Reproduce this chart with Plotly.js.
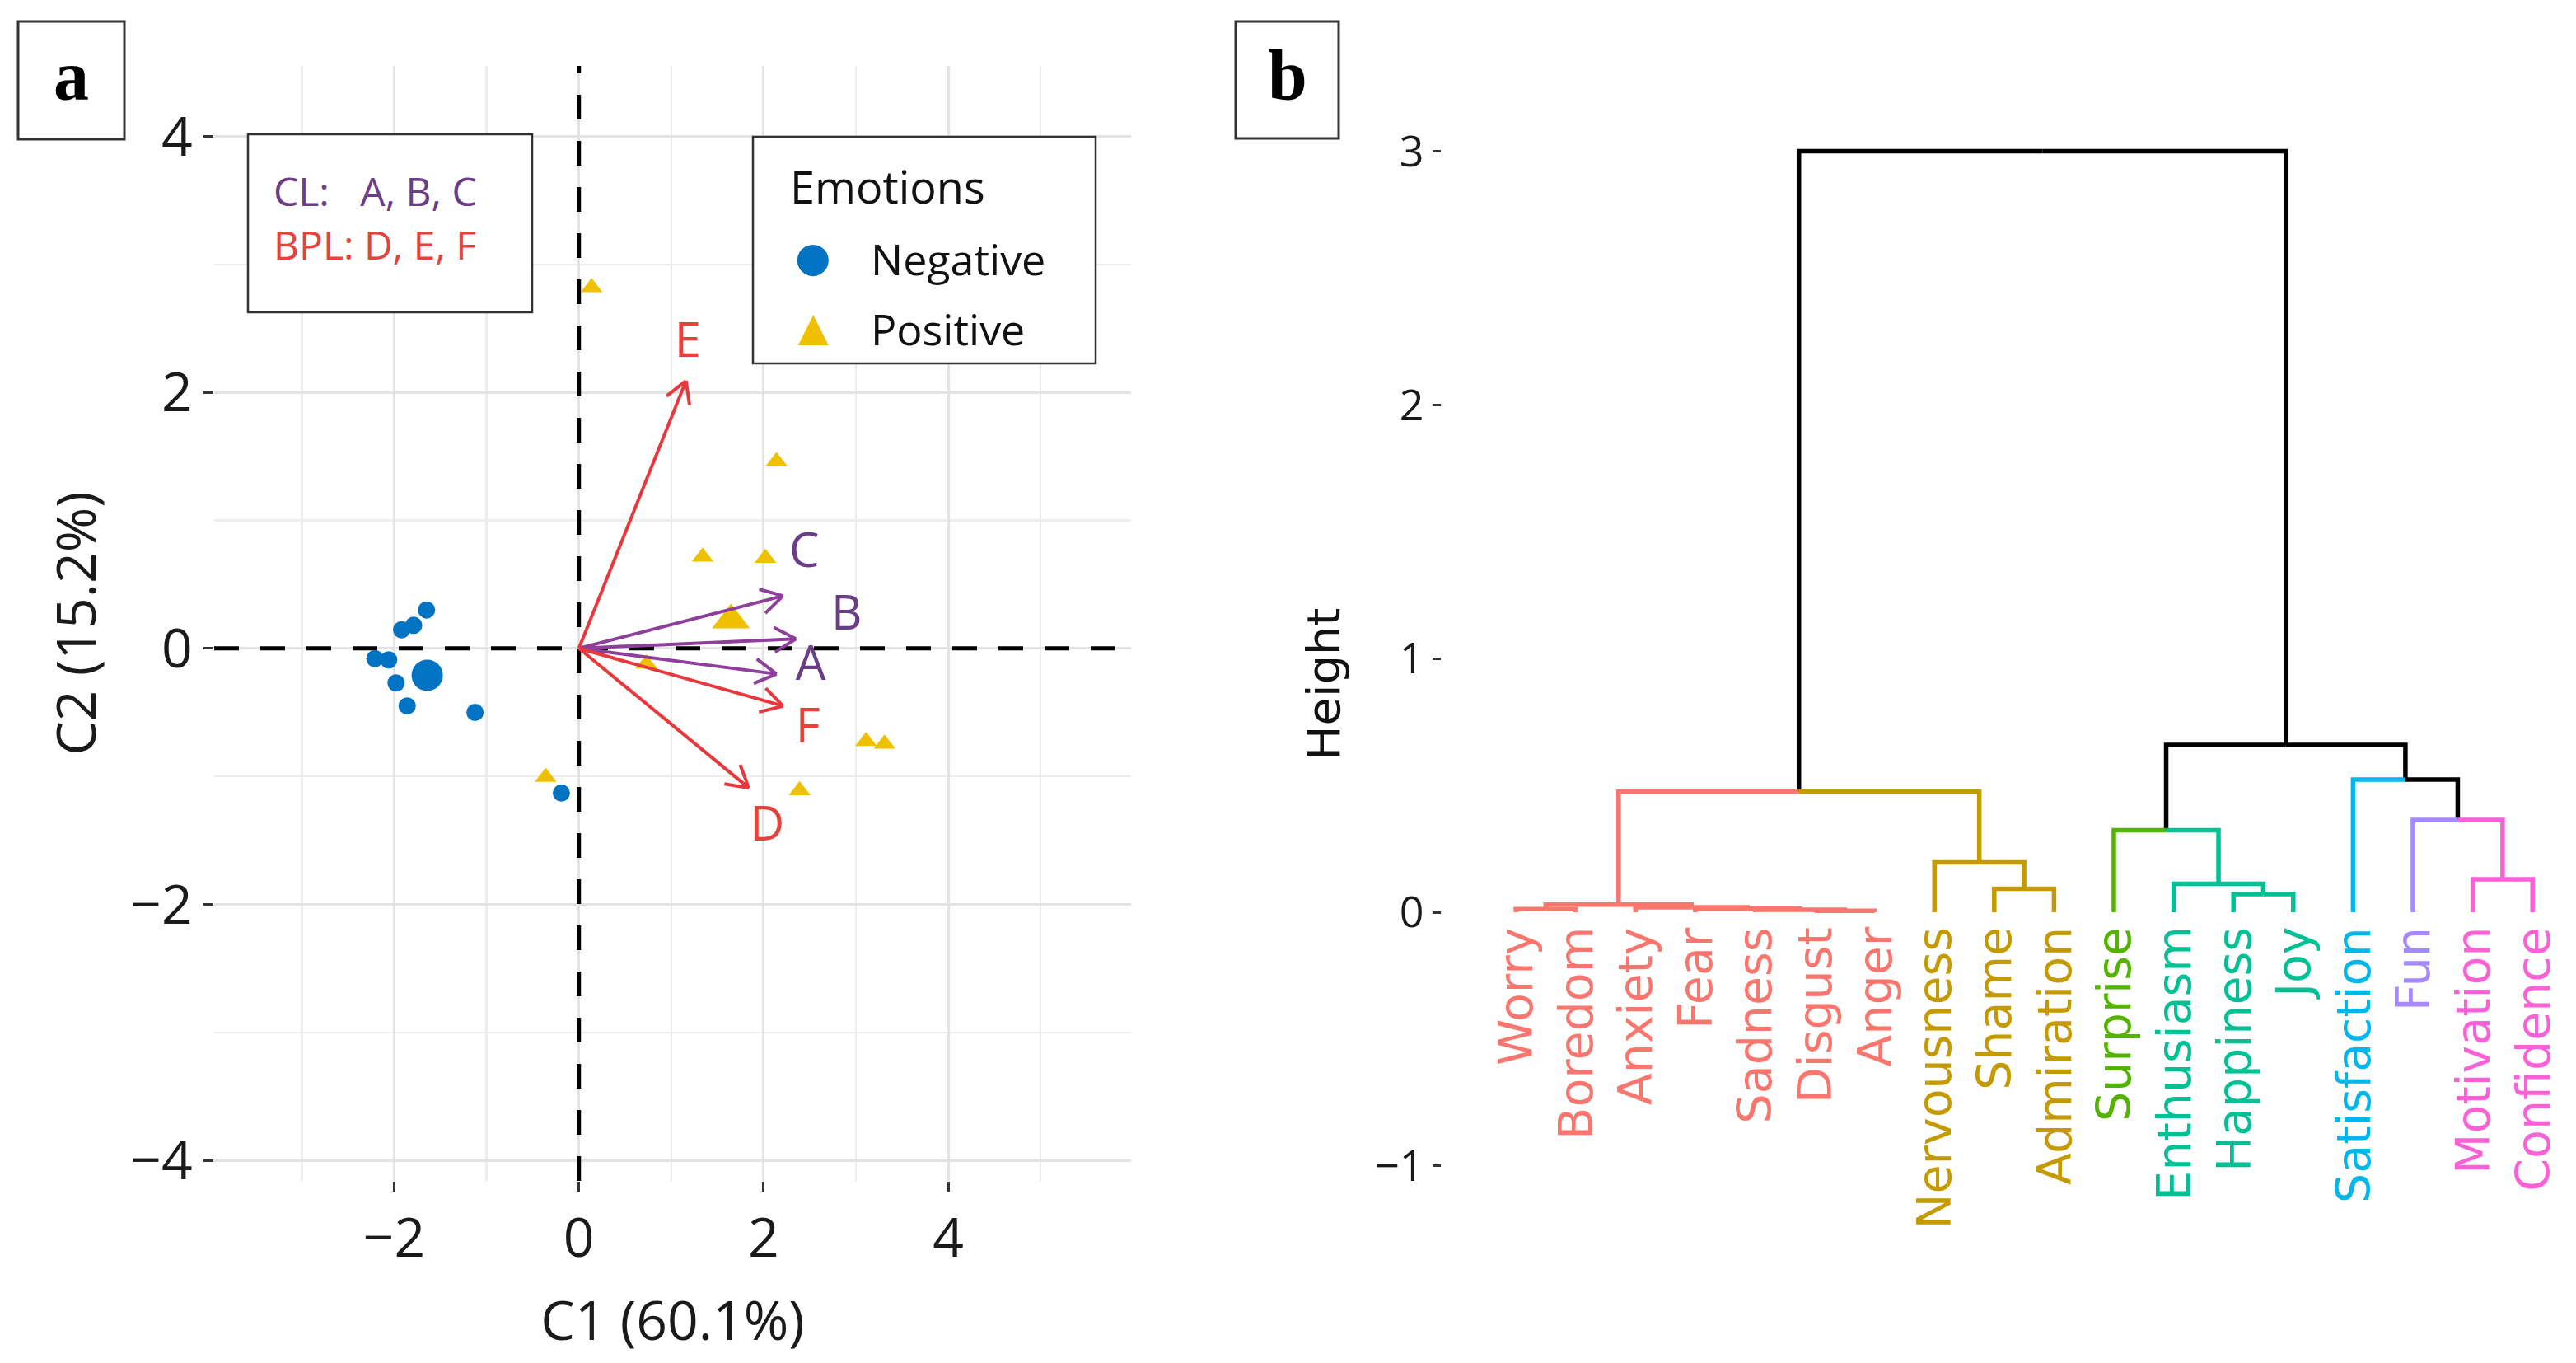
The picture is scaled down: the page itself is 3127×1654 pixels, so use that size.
<!DOCTYPE html>
<html><head><meta charset="utf-8">
<script src="https://cdn.plot.ly/plotly-3.0.1.min.js"></script>
<style>html,body{margin:0;padding:0;background:#fff}#chart{width:3127px;height:1654px}</style>
</head><body><div id="chart"></div>
<script>
// ---------------- Panel a: PCA biplot data ----------------
const negX = [-1.65, -1.79, -1.92, -2.21, -2.06, -1.98, -1.86, -1.125, -0.19];
const negY = [0.30, 0.18, 0.145, -0.08, -0.09, -0.27, -0.45, -0.50, -1.13];
const posX = [0.137, 2.14, 1.34, 2.02, 3.11, 3.31, 2.39, -0.36, 0.73];
const posY = [2.82, 1.46, 0.715, 0.705, -0.726, -0.747, -1.11, -1.005, -0.12];
const groupNames = ['Negative', 'Positive'];

const varNames = ['A', 'B', 'C', 'D', 'E', 'F'];
const varGroup = ['CL', 'CL', 'CL', 'BPL', 'BPL', 'BPL'];
const varX = [2.14, 2.35, 2.21, 1.84, 1.16, 2.21];
const varY = [-0.20, 0.074, 0.41, -1.09, 2.09, -0.45];
const varLabelX = [2.51, 2.90, 2.44, 2.04, 1.18, 2.48];
const varLabelY = [-0.15, 0.24, 0.73, -1.41, 2.37, -0.64];

const xTicksA = [-2, 0, 2, 4];
const yTicksA = [-4, -2, 0, 2, 4];

// ---------------- Panel b: dendrogram data ----------------
const leaves = ['Worry','Boredom','Anxiety','Fear','Sadness','Disgust','Anger','Nervousness','Shame','Admiration','Surprise','Enthusiasm','Happiness','Joy','Satisfaction','Fun','Motivation','Confidence'];
const leafCluster = [1,1,1,1,1,1,1,2,2,2,3,4,4,4,5,6,7,7];
const clusterColors = ['#000000','#F8766D','#C49A00','#53B400','#00C094','#00B6EB','#A58AFF','#FB61D7'];
// hclust-style merges: negative = leaf (1-based), positive = earlier merge (1-based)
const mergeLeft   = [-6, -5, -4, -1, -3, 4, -9, -8, -13, -12, -17, -11, -16, 6, -15, 12, 14];
const mergeRight  = [-7,  1,  2, -2,  3, 5, -10, 7, -14,   9, -18,  10,  11, 8,  13, 15, 16];
const mergeHeight = [0.006, 0.010, 0.014, 0.012, 0.020, 0.030, 0.093, 0.197, 0.072, 0.112, 0.130, 0.323, 0.364, 0.475, 0.523, 0.660, 3.000];
const yTicksB = [-1, 0, 1, 2, 3];

// ---------------- geometry ----------------
const W = 3127, H = 1654;
const domX = (a, b) => [a / W, b / W];
const domY = (top, bottom) => [1 - bottom / H, 1 - top / H];
const pxA = {l: 260, r: 1373, t: 80, b: 1433};
const xRangeA = [-3.95, 5.98], yRangeA = [-4.16, 4.55];
const kx = (pxA.r - pxA.l) / (xRangeA[1] - xRangeA[0]);
const ky = (pxA.b - pxA.t) / (yRangeA[1] - yRangeA[0]);
const pxB = {l: 1750, r: 3120, t: 122, b: 1538};
const xRangeB = [-0.2397, 18.631], yRangeB = [-1.4, 3.2];

const fontA = 'Open Sans, Noto Sans, sans-serif';
const fontB = 'DejaVu Sans, Verdana, sans-serif';
const BLUE = '#0073C2', GOLD = '#EFC000';
const PURPLE_LINE = '#8E3F9C', PURPLE_TEXT = '#6B3D86';
const RED_LINE = '#E8383D', RED_TEXT = '#E2443C';

const mean = a => a.reduce((s, v) => s + v, 0) / a.length;

const traces = [];
// dashed reference lines through the origin (drawn first, beneath marks)
const dashLine = {color:'#000', width:5, dash:'30px,26px'};
traces.push({type:'scatter', mode:'lines', x:[0, 0], y: yRangeA, xaxis:'x', yaxis:'y',
  line: dashLine, showlegend:false, hoverinfo:'skip'});
traces.push({type:'scatter', mode:'lines', x: xRangeA, y:[0, 0], xaxis:'x', yaxis:'y',
  line: dashLine, showlegend:false, hoverinfo:'skip'});
// points
traces.push({type:'scatter', mode:'markers', name: groupNames[0], x: negX, y: negY, xaxis:'x', yaxis:'y',
  marker:{symbol:'circle', size:21, color:BLUE}, showlegend:false, hoverinfo:'x+y'});
traces.push({type:'scatter', mode:'markers', name: groupNames[1], x: posX, y: posY, xaxis:'x', yaxis:'y',
  marker:{symbol:'triangle-up', size:23, color:GOLD}, showlegend:false, hoverinfo:'x+y'});
// group mean points
traces.push({type:'scatter', mode:'markers', x:[mean(negX)], y:[mean(negY)], xaxis:'x', yaxis:'y',
  marker:{symbol:'circle', size:38, color:BLUE}, showlegend:false, hoverinfo:'skip'});
traces.push({type:'scatter', mode:'markers', x:[mean(posX)], y:[mean(posY)], xaxis:'x', yaxis:'y',
  marker:{symbol:'triangle-up', size:40, color:GOLD}, showlegend:false, hoverinfo:'skip'});

// arrows
function arrowTrace(group, color) {
  const xs = [], ys = [];
  varNames.forEach((n, i) => {
    if (varGroup[i] !== group) return;
    const tx = varX[i], ty = varY[i];
    xs.push(0, tx, null); ys.push(0, ty, null);
    const dpx = tx * kx, dpy = ty * ky, L = Math.hypot(dpx, dpy);
    const ux = dpx / L, uy = dpy / L, hl = 30, ang = Math.PI / 6;
    [1, -1].forEach(s => {
      const c = Math.cos(s * ang), sn = Math.sin(s * ang);
      const rx = ux * c - uy * sn, ry = ux * sn + uy * c;
      xs.push(tx, tx - hl * rx / kx, null); ys.push(ty, ty - hl * ry / ky, null);
    });
  });
  return {type:'scatter', mode:'lines', x:xs, y:ys, xaxis:'x', yaxis:'y',
    line:{color, width:4}, showlegend:false, hoverinfo:'skip'};
}
traces.push(arrowTrace('CL', PURPLE_LINE));
traces.push(arrowTrace('BPL', RED_LINE));
traces.push({type:'scatter', mode:'text', x: varLabelX, y: varLabelY, text: varNames, xaxis:'x', yaxis:'y',
  textposition:'middle center',
  textfont:{family: fontA, size: 58, color: varGroup.map(g => g === 'CL' ? PURPLE_TEXT : RED_TEXT)},
  showlegend:false, hoverinfo:'skip'});

// dendrogram
const nodeX = [], nodeH = [], nodeC = [];
const childX = c => c < 0 ? (-c) : nodeX[c - 1];
const childH = c => c < 0 ? 0 : nodeH[c - 1];
const childC = c => c < 0 ? leafCluster[-c - 1] : nodeC[c - 1];
mergeHeight.forEach((h, i) => {
  const a = mergeLeft[i], b = mergeRight[i];
  nodeX.push((childX(a) + childX(b)) / 2);
  nodeH.push(h);
  const ca = childC(a), cb = childC(b);
  nodeC.push(ca === cb ? ca : 0);
});
const segs = {};
mergeHeight.forEach((h, i) => {
  [mergeLeft[i], mergeRight[i]].forEach(c => {
    const col = childC(c);
    if (!segs[col]) segs[col] = {x: [], y: []};
    segs[col].x.push(nodeX[i], childX(c), childX(c), null);
    segs[col].y.push(h, h, childH(c), null);
  });
});
Object.keys(segs).forEach(k => {
  traces.push({type:'scatter', mode:'lines', x: segs[k].x, y: segs[k].y, xaxis:'x2', yaxis:'y2',
    line:{color: clusterColors[k], width: 5.5}, showlegend:false, hoverinfo:'skip'});
});

// ---------------- annotations & shapes ----------------
const ann = [];
const shapes = [];
const px2x = p => p / W, px2y = p => 1 - p / H;

// leaf labels
leaves.forEach((n, i) => {
  ann.push({xref:'x2', yref:'y2', x: i + 1, y: 0, yshift: -16, text: n, showarrow:false,
    textangle: -90, xanchor:'center', yanchor:'top',
    font:{family: fontB, size: 57, color: clusterColors[leafCluster[i]]}});
});

// panel tags
function tagBox(x0, x1, y0, y1, letter) {
  shapes.push({type:'rect', xref:'paper', yref:'paper', x0:px2x(x0), x1:px2x(x1), y0:px2y(y1), y1:px2y(y0),
    line:{color:'#333', width:3}, fillcolor:'rgba(0,0,0,0)'});
  ann.push({xref:'paper', yref:'paper', x:px2x((x0 + x1) / 2), y:px2y((y0 + y1) / 2 - 6), text:'<b>' + letter + '</b>',
    showarrow:false, xanchor:'center', yanchor:'middle', font:{family:'Liberation Serif, Times New Roman, serif', size:86, color:'#000'}});
}
tagBox(22, 151, 26, 169, 'a');
tagBox(1500, 1625, 26, 168, 'b');

// CL / BPL note box
shapes.push({type:'rect', xref:'paper', yref:'paper', x0:px2x(301), x1:px2x(646), y0:px2y(379), y1:px2y(163),
  line:{color:'#333', width:2.5}, fillcolor:'#fff', layer:'above'});
ann.push({xref:'paper', yref:'paper', x:px2x(330), y:px2y(231), text:'CL:\u00A0\u00A0\u00A0A, B, C', showarrow:false,
  xanchor:'left', yanchor:'middle', font:{family: fontA, size: 48, color: PURPLE_TEXT}});
ann.push({xref:'paper', yref:'paper', x:px2x(330), y:px2y(297), text:'BPL: D, E, F', showarrow:false,
  xanchor:'left', yanchor:'middle', font:{family: fontA, size: 48, color: RED_TEXT}});

// legend box
shapes.push({type:'rect', xref:'paper', yref:'paper', x0:px2x(914), x1:px2x(1330), y0:px2y(441), y1:px2y(166),
  line:{color:'#333', width:2.5}, fillcolor:'#fff', layer:'above'});
ann.push({xref:'paper', yref:'paper', x:px2x(957), y:px2y(226), text:'Emotions', showarrow:false,
  xanchor:'left', yanchor:'middle', font:{family: fontA, size: 54, color:'#111'}});
ann.push({xref:'paper', yref:'paper', x:px2x(987), y:px2y(312), text:'\u25CF', showarrow:false,
  xanchor:'center', yanchor:'middle', font:{family: fontB, size: 50, color: BLUE}});
ann.push({xref:'paper', yref:'paper', x:px2x(987), y:px2y(396), text:'\u25B2', showarrow:false,
  xanchor:'center', yanchor:'middle', font:{family: fontB, size: 48, color: GOLD}});
ann.push({xref:'paper', yref:'paper', x:px2x(1055), y:px2y(313), text: groupNames[0], showarrow:false,
  xanchor:'left', yanchor:'middle', font:{family: fontA, size: 52, color:'#111'}});
ann.push({xref:'paper', yref:'paper', x:px2x(1055), y:px2y(398), text: groupNames[1], showarrow:false,
  xanchor:'left', yanchor:'middle', font:{family: fontA, size: 52, color:'#111'}});

const layout = {
  width: W, height: H,
  margin: {l:0, r:0, t:0, b:0},
  paper_bgcolor:'#fff', plot_bgcolor:'#fff',
  font: {family: fontA, color:'#111'},
  showlegend: false,
  xaxis: {domain: domX(pxA.l, pxA.r), range: xRangeA, anchor:'y',
    tickmode:'array', tickvals: xTicksA, ticks:'outside', ticklen:12, tickwidth:3, tickcolor:'#333',
    tickfont:{family: fontA, size: 66, color:'#1a1a1a'},
    showgrid:true, gridcolor:'#E3E3E3', gridwidth:3, zeroline:false, showline:false,
    minor:{tickvals:[-3,-1,1,3,5], showgrid:true, gridcolor:'#EDEDED', gridwidth:2.5, ticks:''},
    title:{text:'C1 (60.1%)', font:{family: fontA, size: 66, color:'#1a1a1a'}, standoff: 36}},
  yaxis: {domain: domY(pxA.t, pxA.b), range: yRangeA, anchor:'x',
    tickmode:'array', tickvals: yTicksA, ticks:'outside', ticklen:12, tickwidth:3, tickcolor:'#333',
    tickfont:{family: fontA, size: 66, color:'#1a1a1a'},
    showgrid:true, gridcolor:'#E3E3E3', gridwidth:3, zeroline:false, showline:false,
    minor:{tickvals:[-3,-1,1,3], showgrid:true, gridcolor:'#EDEDED', gridwidth:2.5, ticks:''},
    title:{text:'C2 (15.2%)', font:{family: fontA, size: 66, color:'#1a1a1a'}, standoff: 20}},
  xaxis2: {domain: domX(pxB.l, pxB.r), range: xRangeB, anchor:'y2', visible:false},
  yaxis2: {domain: domY(pxB.t, pxB.b), range: yRangeB, anchor:'x2',
    tickmode:'array', tickvals: yTicksB, ticks:'outside', ticklen:10, tickwidth:3, tickcolor:'#333',
    tickfont:{family: fontA, size: 52, color:'#1a1a1a'},
    showgrid:false, zeroline:false, showline:false,
    title:{text:'Height', font:{family: fontB, size: 56, color:'#111'}, standoff: 24}},
  shapes, annotations: ann
};

Plotly.newPlot('chart', traces, layout, {staticPlot:true});
</script>
</body></html>
